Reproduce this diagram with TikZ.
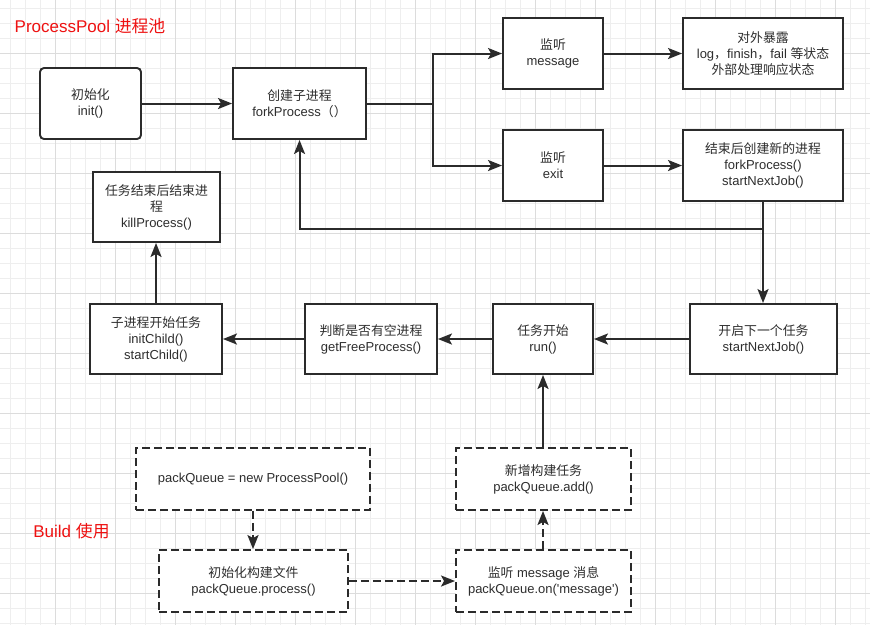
\documentclass[tikz,border=0pt]{standalone}
\usepackage{fontspec}
\setmainfont{Liberation Sans}
\newfontfamily\cjk[Scale=0.99]{Noto Sans CJK SC}
\usetikzlibrary{arrows.meta}
\definecolor{ink}{HTML}{2B2B2B}
\definecolor{txt}{HTML}{2E2E2E}
\definecolor{titlered}{HTML}{EE1111}
\definecolor{gminor}{HTML}{EEEEEE}
\definecolor{gmajor}{HTML}{DCDCDC}
\begin{document}
\begin{tikzpicture}[x=1pt,y=-1pt,
  box/.style={draw=ink, line width=1.9pt, fill=white, align=center, inner sep=2pt, text=txt, font=\fontsize{13}{16}\selectfont},
  dbox/.style={box, dash pattern=on 8pt off 4pt},
  sz/.style 2 args={minimum width=#1pt, minimum height=#2pt},
  conn/.style={draw=ink, line width=2pt},
  arr/.style={conn, -{Stealth[length=14pt,width=11pt,inset=3pt]}},
  darr/.style={arr, dash pattern=on 8pt off 4pt},
  titletext/.style={text=titlered, font=\fontsize{17}{20}\selectfont},
  gminorline/.style={draw=gminor, line width=0.7pt},
  gmajorline/.style={draw=gmajor, line width=0.7pt}
]
\useasboundingbox (0,0) rectangle (870,625);
\fill[white] (0,0) rectangle (870,625);
% grid
\foreach \x in {10,25,...,865} \draw[gminorline] (\x,0) -- (\x,625);
\foreach \y in {8,23,...,623} \draw[gminorline] (0,\y) -- (870,\y);
\foreach \x in {55,115,...,835} \draw[gmajorline] (\x,0) -- (\x,625);
\foreach \y in {53,113,...,593} \draw[gmajorline] (0,\y) -- (870,\y);

% titles
\node[titletext] (t1) at (90,26) {ProcessPool {\cjk 进程池}};
\node[titletext] (t2) at (71.5,531) {Build {\cjk 使用}};

% ProcessPool boxes
\node[box, sz={101}{71}, rounded corners=4pt] (init) at (90.5,103.5) {{\cjk 初始化}\\init()};
\node[box, sz={133}{71}] (fork) at (299.5,103.5) {{\cjk 创建子进程}\\forkProcess{\cjk （）}};
\node[box, sz={100}{71}] (msg) at (553,53.5) {{\cjk 监听}\\message};
\node[box, sz={160}{71}] (expose) at (763,53.5) {{\cjk 对外暴露}\\log{\cjk ，}finish{\cjk ，}fail {\cjk 等状态}\\{\cjk 外部处理响应状态}};
\node[box, sz={100}{71}] (exit) at (553,165.5) {{\cjk 监听}\\exit};
\node[box, sz={160}{71}] (restart) at (763,165.5) {{\cjk 结束后创建新的进程}\\forkProcess()\\startNextJob()};
\node[box, sz={127}{70}] (kill) at (156.5,207) {{\cjk 任务结束后结束进}\\{\cjk 程}\\killProcess()};
\node[box, sz={132}{70}] (child) at (156,339) {{\cjk 子进程开始任务}\\initChild()\\startChild()};
\node[box, sz={132}{70}] (judge) at (371,339) {{\cjk 判断是否有空进程}\\getFreeProcess()};
\node[box, sz={100}{70}] (run) at (543,339) {{\cjk 任务开始}\\run()};
\node[box, sz={147}{70}] (next) at (763.5,339) {{\cjk 开启下一个任务}\\startNextJob()};

% Build boxes
\node[dbox, sz={234}{62}] (pq) at (253,479) {packQueue = new ProcessPool()};
\node[dbox, sz={189}{62}] (ib) at (253.5,581) {{\cjk 初始化构建文件}\\packQueue.process()};
\node[dbox, sz={175}{62}] (listen) at (543.5,581) {{\cjk 监听} message {\cjk 消息}\\packQueue.on(\textquotesingle message\textquotesingle)};
\node[dbox, sz={175}{62}] (add) at (543.5,479) {{\cjk 新增构建任务}\\packQueue.add()};

% connectors
\coordinate (j1) at (433,103.5);
\coordinate (j2) at (763,229);
\draw[arr] (init) -- (fork);
\draw[conn] (fork.east) -- (j1);
\draw[arr] (j1) |- (msg.west);
\draw[arr] (j1) |- (exit.west);
\draw[arr] (msg) -- (expose);
\draw[arr] (exit) -- (restart);
\draw[arr] (restart.south) -- (restart.south |- next.north);
\draw[arr] (j2) -| (fork.south);
\draw[arr] (next) -- (run);
\draw[arr] (run) -- (judge);
\draw[arr] (judge) -- (child);
\draw[arr] (child.north) -- (child.north |- kill.south);
\draw[darr] (pq.south) -- (pq.south |- ib.north);
\draw[darr] (ib) -- (listen);
\draw[darr] (listen.north -| run.south) -- (add.south -| run.south);
\draw[arr] (add.north -| run.south) -- (run.south);
\end{tikzpicture}
\end{document}
